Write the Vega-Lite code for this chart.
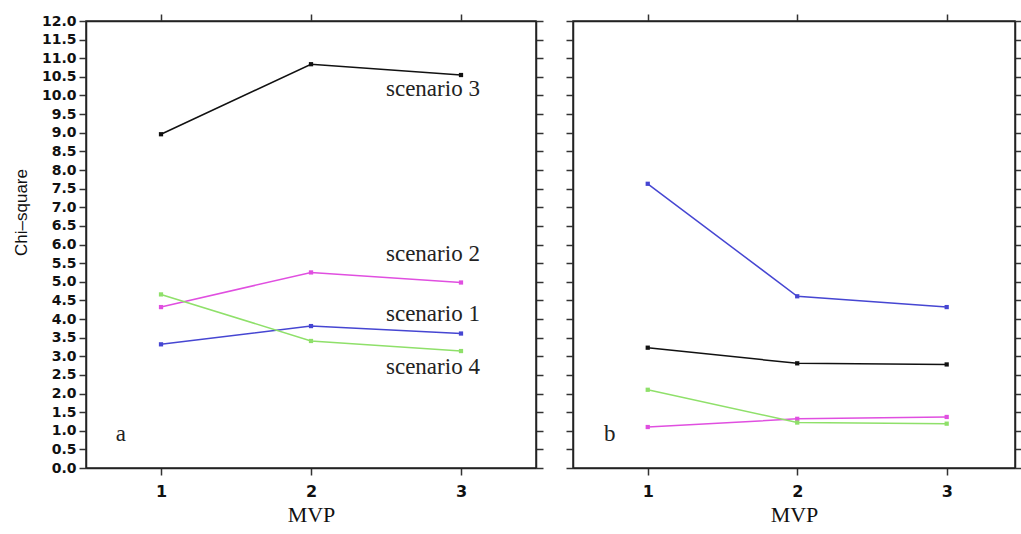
{
  "$schema": "https://vega.github.io/schema/vega-lite/v6.json",
  "background": "white",
  "padding": {"left": 11, "top": 12, "right": 0, "bottom": 5},
  "config": {
    "view": {"stroke": "#222", "strokeWidth": 1.5},
    "axis": {"domainColor": "#222", "domainWidth": 1.5, "tickColor": "#333", "tickWidth": 1.5, "tickSize": 7, "grid": false,
             "labelFont": "DejaVu Sans", "labelFontWeight": "bold", "labelFontSize": 14, "labelColor": "#111"}
  },
  "data": {"values": [
    {"panel": "a", "scenario": "scenario 1", "MVP": 1, "chi": 3.32},
    {"panel": "a", "scenario": "scenario 1", "MVP": 2, "chi": 3.81},
    {"panel": "a", "scenario": "scenario 1", "MVP": 3, "chi": 3.61},
    {"panel": "a", "scenario": "scenario 2", "MVP": 1, "chi": 4.32},
    {"panel": "a", "scenario": "scenario 2", "MVP": 2, "chi": 5.25},
    {"panel": "a", "scenario": "scenario 2", "MVP": 3, "chi": 4.98},
    {"panel": "a", "scenario": "scenario 3", "MVP": 1, "chi": 8.96},
    {"panel": "a", "scenario": "scenario 3", "MVP": 2, "chi": 10.84},
    {"panel": "a", "scenario": "scenario 3", "MVP": 3, "chi": 10.55},
    {"panel": "a", "scenario": "scenario 4", "MVP": 1, "chi": 4.66},
    {"panel": "a", "scenario": "scenario 4", "MVP": 2, "chi": 3.41},
    {"panel": "a", "scenario": "scenario 4", "MVP": 3, "chi": 3.14},
    {"panel": "b", "scenario": "scenario 1", "MVP": 1, "chi": 7.63},
    {"panel": "b", "scenario": "scenario 1", "MVP": 2, "chi": 4.61},
    {"panel": "b", "scenario": "scenario 1", "MVP": 3, "chi": 4.32},
    {"panel": "b", "scenario": "scenario 2", "MVP": 1, "chi": 1.1},
    {"panel": "b", "scenario": "scenario 2", "MVP": 2, "chi": 1.32},
    {"panel": "b", "scenario": "scenario 2", "MVP": 3, "chi": 1.37},
    {"panel": "b", "scenario": "scenario 3", "MVP": 1, "chi": 3.23},
    {"panel": "b", "scenario": "scenario 3", "MVP": 2, "chi": 2.81},
    {"panel": "b", "scenario": "scenario 3", "MVP": 3, "chi": 2.78},
    {"panel": "b", "scenario": "scenario 4", "MVP": 1, "chi": 2.1},
    {"panel": "b", "scenario": "scenario 4", "MVP": 2, "chi": 1.22},
    {"panel": "b", "scenario": "scenario 4", "MVP": 3, "chi": 1.19}
  ]},
  "bounds": "flush",
  "spacing": 37,
  "hconcat": [
    {
      "width": 450, "height": 447,
      "layer": [
        {
          "transform": [{"filter": "datum.panel == 'a'"}],
          "mark": {"type": "line", "strokeWidth": 1.5},
          "encoding": {
            "x": {"field": "MVP", "type": "quantitative", "scale": {"domain": [0.5, 3.5], "nice": false},
                  "axis": {"orient": "bottom", "values": [1, 2, 3], "format": "d", "labelPadding": 8, "labelFontSize": 16,
                           "title": "MVP", "titleFont": "Liberation Serif", "titleFontWeight": "normal", "titleFontSize": 22, "titleColor": "#111", "titlePadding": 5}},
            "y": {"field": "chi", "type": "quantitative", "scale": {"domain": [0, 12], "nice": false},
                  "axis": {"orient": "left", "values": [0,0.5,1,1.5,2,2.5,3,3.5,4,4.5,5,5.5,6,6.5,7,7.5,8,8.5,9,9.5,10,10.5,11,11.5,12], "format": ".1f",
                           "labelPadding": 3, "labelOverlap": false, "labelBound": false, "labelFlush": false,
                           "title": "Chi–square", "titleFont": "Liberation Sans", "titleFontWeight": "normal", "titleFontSize": 17, "titleColor": "#111", "titlePadding": 11, "titleY": 191}},
            "color": {"field": "scenario", "type": "nominal", "legend": null,
                      "scale": {"domain": ["scenario 1", "scenario 2", "scenario 3", "scenario 4"], "range": ["#4646d2", "#e04fe0", "#111111", "#8fe06a"]}}
          }
        },
        {
          "transform": [{"filter": "datum.panel == 'a'"}],
          "mark": {"type": "point", "shape": "square", "filled": true, "size": 18, "opacity": 1},
          "encoding": {
            "x": {"field": "MVP", "type": "quantitative", "axis": {"orient": "top", "values": [1, 2, 3], "labels": false, "title": null}},
            "y": {"field": "chi", "type": "quantitative", "axis": {"orient": "right", "values": [0,0.5,1,1.5,2,2.5,3,3.5,4,4.5,5,5.5,6,6.5,7,7.5,8,8.5,9,9.5,10,10.5,11,11.5,12], "labels": false, "title": null}},
            "color": {"field": "scenario", "type": "nominal", "legend": null}
          }
        },
        {
          "data": {"values": [{}]},
          "mark": {"type": "text", "font": "Liberation Serif", "fontSize": 23, "align": "left", "baseline": "middle", "color": "#222"},
          "encoding": {"x": {"datum": 2.5, "type": "quantitative", "axis": null}, "y": {"datum": 10.17, "type": "quantitative", "axis": null}, "text": {"value": "scenario 3"}}
        },
        {
          "data": {"values": [{}]},
          "mark": {"type": "text", "font": "Liberation Serif", "fontSize": 23, "align": "left", "baseline": "middle", "color": "#222"},
          "encoding": {"x": {"datum": 2.5, "type": "quantitative", "axis": null}, "y": {"datum": 5.74, "type": "quantitative", "axis": null}, "text": {"value": "scenario 2"}}
        },
        {
          "data": {"values": [{}]},
          "mark": {"type": "text", "font": "Liberation Serif", "fontSize": 23, "align": "left", "baseline": "middle", "color": "#222"},
          "encoding": {"x": {"datum": 2.5, "type": "quantitative", "axis": null}, "y": {"datum": 4.13, "type": "quantitative", "axis": null}, "text": {"value": "scenario 1"}}
        },
        {
          "data": {"values": [{}]},
          "mark": {"type": "text", "font": "Liberation Serif", "fontSize": 23, "align": "left", "baseline": "middle", "color": "#222"},
          "encoding": {"x": {"datum": 2.5, "type": "quantitative", "axis": null}, "y": {"datum": 2.71, "type": "quantitative", "axis": null}, "text": {"value": "scenario 4"}}
        },
        {
          "data": {"values": [{}]},
          "mark": {"type": "text", "font": "Liberation Serif", "fontSize": 23, "align": "center", "baseline": "middle", "color": "#222"},
          "encoding": {"x": {"datum": 0.732, "type": "quantitative", "axis": null}, "y": {"datum": 0.9, "type": "quantitative", "axis": null}, "text": {"value": "a"}}
        }
      ],
      "resolve": {"axis": {"x": "independent", "y": "independent"}}
    },
    {
      "width": 442, "height": 447,
      "layer": [
        {
          "transform": [{"filter": "datum.panel == 'b'"}],
          "mark": {"type": "line", "strokeWidth": 1.5},
          "encoding": {
            "x": {"field": "MVP", "type": "quantitative", "scale": {"domain": [0.5, 3.457], "nice": false},
                  "axis": {"orient": "bottom", "values": [1, 2, 3], "format": "d", "labelPadding": 8, "labelFontSize": 16,
                           "title": "MVP", "titleFont": "Liberation Serif", "titleFontWeight": "normal", "titleFontSize": 22, "titleColor": "#111", "titlePadding": 5}},
            "y": {"field": "chi", "type": "quantitative", "scale": {"domain": [0, 12], "nice": false},
                  "axis": {"orient": "left", "values": [0,0.5,1,1.5,2,2.5,3,3.5,4,4.5,5,5.5,6,6.5,7,7.5,8,8.5,9,9.5,10,10.5,11,11.5,12], "labels": false, "title": null}},
            "color": {"field": "scenario", "type": "nominal", "legend": null,
                      "scale": {"domain": ["scenario 1", "scenario 2", "scenario 3", "scenario 4"], "range": ["#4646d2", "#e04fe0", "#111111", "#8fe06a"]}}
          }
        },
        {
          "transform": [{"filter": "datum.panel == 'b'"}],
          "mark": {"type": "point", "shape": "square", "filled": true, "size": 18, "opacity": 1},
          "encoding": {
            "x": {"field": "MVP", "type": "quantitative", "axis": {"orient": "top", "values": [1, 2, 3], "labels": false, "title": null}},
            "y": {"field": "chi", "type": "quantitative", "axis": {"orient": "right", "values": [0,0.5,1,1.5,2,2.5,3,3.5,4,4.5,5,5.5,6,6.5,7,7.5,8,8.5,9,9.5,10,10.5,11,11.5,12], "labels": false, "title": null}},
            "color": {"field": "scenario", "type": "nominal", "legend": null}
          }
        },
        {
          "data": {"values": [{}]},
          "mark": {"type": "text", "font": "Liberation Serif", "fontSize": 23, "align": "center", "baseline": "middle", "color": "#222"},
          "encoding": {"x": {"datum": 0.746, "type": "quantitative", "axis": null}, "y": {"datum": 0.9, "type": "quantitative", "axis": null}, "text": {"value": "b"}}
        }
      ],
      "resolve": {"axis": {"x": "independent", "y": "independent"}}
    }
  ]
}
